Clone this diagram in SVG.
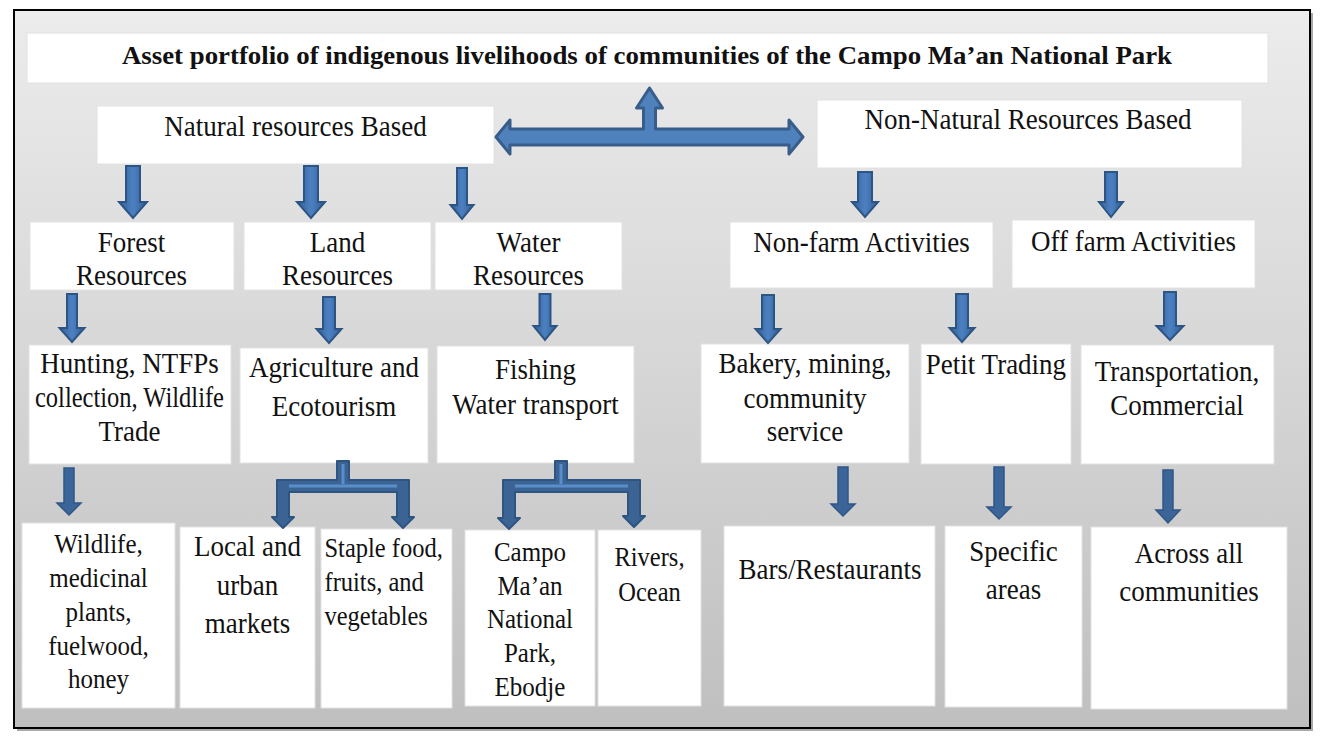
<svg xmlns="http://www.w3.org/2000/svg" width="1325" height="747" viewBox="0 0 1325 747">
<defs>
<linearGradient id="bg" x1="0" y1="0" x2="0" y2="1">
<stop offset="0" stop-color="#ececec"/>
<stop offset="0.5" stop-color="#d6d6d6"/>
<stop offset="1" stop-color="#bfbfbf"/>
</linearGradient>
<linearGradient id="arr" x1="0" y1="0" x2="1" y2="0">
<stop offset="0" stop-color="#335d91"/>
<stop offset="0.45" stop-color="#4a7ebf"/>
<stop offset="0.55" stop-color="#4a7ebf"/>
<stop offset="1" stop-color="#335d91"/>
</linearGradient>
</defs>
<style>
.box{fill:#ffffff;stroke:#e2e2e2;stroke-width:1}
.t{font-family:"Liberation Serif","Times New Roman",serif;font-size:27px;fill:#111111;text-anchor:middle;transform-box:fill-box;transform-origin:50% 50%;transform:scaleY(1.12)}
.s25{font-size:25px}
.s24{font-size:24.5px}
.title{font-family:"Liberation Serif","Times New Roman",serif;font-size:23px;font-weight:bold;fill:#111111;text-anchor:middle;transform-box:fill-box;transform-origin:50% 50%;transform:scaleY(1.08)}
.big{fill:#4f81bd;stroke:#385d8a;stroke-width:3;stroke-linejoin:round}
.da{fill:url(#arr);stroke:#2d5584;stroke-width:2;stroke-linejoin:miter}
.dc{fill:#3b6598;stroke:#2f5686;stroke-width:1.5}
.br{fill:#3b6495;stroke:#2e5482;stroke-width:2;stroke-linejoin:round}
.hl{stroke:#5a8dcc;stroke-width:3;fill:none}
</style>

<rect x="17" y="13" width="1296" height="718" fill="#a8a8a8"/>
<rect x="14" y="10" width="1296" height="718" fill="url(#bg)" stroke="#000000" stroke-width="2"/>

<g id="title"><rect class="box" x="27" y="33" width="1241" height="50"/><text class="title" x="647" y="63" textLength="1050" lengthAdjust="spacingAndGlyphs">Asset portfolio of indigenous livelihoods of communities of the Campo Ma’an National Park</text></g>

<g id="natural"><rect class="box" x="97" y="106" width="397" height="58"/><text class="t" x="295.5" y="135">Natural resources Based</text></g>
<g id="nonnatural"><rect class="box" x="817" y="100" width="425" height="68"/><text class="t" x="1028" y="128">Non-Natural Resources Based</text></g>

<g id="forest"><rect class="box" x="30" y="222" width="204" height="68"/><text class="t" x="131.5" y="251">Forest</text><text class="t" x="131.5" y="284">Resources</text></g>
<g id="land"><rect class="box" x="244" y="222" width="187" height="68"/><text class="t" x="337.5" y="251">Land</text><text class="t" x="337.5" y="284">Resources</text></g>
<g id="water"><rect class="box" x="435" y="222" width="187" height="68"/><text class="t" x="528.5" y="251">Water</text><text class="t" x="528.5" y="284">Resources</text></g>
<g id="nonfarm"><rect class="box" x="730" y="222" width="263" height="66"/><text class="t" x="861.5" y="251">Non-farm Activities</text></g>
<g id="offfarm"><rect class="box" x="1012" y="220" width="243" height="68"/><text class="t" x="1133.5" y="249.5">Off farm Activities</text></g>

<g id="hunting"><rect class="box" x="29" y="345" width="202" height="119"/><text class="t" x="129.5" y="372" font-size="23">Hunting, NTFPs</text><text class="t" x="129.5" y="406" font-size="23" textLength="189" lengthAdjust="spacingAndGlyphs">collection, Wildlife</text><text class="t" x="129.5" y="440" font-size="23">Trade</text></g>
<g id="agriculture"><rect class="box" x="240" y="348" width="188" height="115"/><text class="t" x="334" y="376">Agriculture and</text><text class="t" x="334" y="415">Ecotourism</text></g>
<g id="fishing"><rect class="box" x="437" y="346" width="197" height="117"/><text class="t" x="535.5" y="378">Fishing</text><text class="t" x="535.5" y="413">Water transport</text></g>
<g id="bakery"><rect class="box" x="701" y="344" width="208" height="119"/><text class="t" x="805" y="372">Bakery, mining,</text><text class="t" x="805" y="406.5">community</text><text class="t" x="805" y="440">service</text></g>
<g id="petit"><rect class="box" x="921" y="344" width="150" height="120"/><text class="t" x="996" y="373">Petit Trading</text></g>
<g id="transport"><rect class="box" x="1081" y="345" width="193" height="119"/><text class="t" x="1177" y="380">Transportation,</text><text class="t" x="1177" y="413.5">Commercial</text></g>

<g id="wildlife"><rect class="box" x="22" y="523" width="153" height="185"/><text class="t s25" x="98.5" y="552">Wildlife,</text><text class="t s25" x="98.5" y="586">medicinal</text><text class="t s25" x="98.5" y="620">plants,</text><text class="t s25" x="98.5" y="654">fuelwood,</text><text class="t s25" x="98.5" y="687">honey</text></g>
<g id="local"><rect class="box" x="180" y="527" width="135" height="181"/><text class="t" x="247.5" y="555" font-size="26">Local and</text><text class="t" x="247.5" y="594" font-size="26">urban</text><text class="t" x="247.5" y="632" font-size="26">markets</text></g>
<g id="staple"><rect class="box" x="321" y="529" width="131" height="179"/><text class="t s24" x="324.5" y="556" style="text-anchor:start">Staple food,</text><text class="t s24" x="324.5" y="590" style="text-anchor:start">fruits, and</text><text class="t s24" x="324.5" y="624" style="text-anchor:start">vegetables</text></g>
<g id="campo"><rect class="box" x="465" y="530" width="130" height="176"/><text class="t s25" x="530" y="560">Campo</text><text class="t s25" x="530" y="594">Ma’an</text><text class="t s25" x="530" y="627">National</text><text class="t s25" x="530" y="661">Park,</text><text class="t s25" x="530" y="695">Ebodje</text></g>
<g id="rivers"><rect class="box" x="598" y="530" width="103" height="176"/><text class="t s24" x="649.5" y="565">Rivers,</text><text class="t s24" x="649.5" y="600">Ocean</text></g>
<g id="bars"><rect class="box" x="724" y="526" width="211" height="180"/><text class="t" x="830" y="578">Bars/Restaurants</text></g>
<g id="specific"><rect class="box" x="945" y="526" width="137" height="181"/><text class="t" x="1013.5" y="560" font-size="26">Specific</text><text class="t" x="1013.5" y="598" font-size="26">areas</text></g>
<g id="across"><rect class="box" x="1091" y="527" width="196" height="182"/><text class="t" x="1189" y="562">Across all</text><text class="t" x="1189" y="600">communities</text></g>

<g id="connectors">
<path class="big" d="M496,137 L510,120 L510,129 L643.5,129 L643.5,108 L636.5,108 L649.5,88 L662.5,108 L655.5,108 L655.5,129 L789,129 L789,120 L803,137 L789,154 L789,145 L510,145 L510,154 Z"/>

<path class="da" d="M126,166 H140 V202 H147 L133,218 L119,202 H126 Z"/>
<path class="da" d="M304,166 H318 V202 H325 L311,218 L297,202 H304 Z"/>
<path class="da" d="M457,168 H467 V205 H473.5 L462,219 L450.5,205 H457 Z"/>
<path class="da" d="M858,172 H872 V202 H878 L865,217 L852,202 H858 Z"/>
<path class="da" d="M1105,172 H1117 V202 H1123 L1111,217 L1099,202 H1105 Z"/>

<path class="da" d="M67,294 H77 V328 H84.5 L72,342 L59.5,328 H67 Z"/>
<path class="da" d="M323,297 H335 V329 H341.5 L329,343 L316.5,329 H323 Z"/>
<path class="da" d="M539.5,294 H550.5 V326 H556.5 L545,340 L533.5,326 H539.5 Z"/>
<path class="da" d="M762,295 H774 V329 H780.5 L768,343 L755.5,329 H762 Z"/>
<path class="da" d="M956,294 H968 V328 H974.5 L962,342 L949.5,328 H956 Z"/>
<path class="da" d="M1164,292 H1176 V326 H1183.5 L1170,340 L1156.5,326 H1164 Z"/>

<path class="dc" d="M64,468 H74 V503 H81 L69,515 L57,503 H64 Z"/>
<path class="dc" d="M838,467 H848 V504 H855 L843,516 L831,504 H838 Z"/>
<path class="dc" d="M994,467 H1004 V507 H1011 L999,519 L987,507 H994 Z"/>
<path class="dc" d="M1163,470 H1173 V510 H1180 L1168,523 L1156,510 H1163 Z"/>

<path class="br" d="M337,461 H349 V480 H409 V517 H414 L403,528 L392,517 H397 V492 H289 V517 H294 L283,528 L272,517 H277 V480 H337 Z"/>
<path class="hl" d="M343,464 V484 M289,486 H397"/>
<path class="br" d="M555,461 H567 V480 H640 V516 H645 L634,527 L623,516 H628 V492 H515 V518 H520 L509,529 L498,518 H503 V480 H555 Z"/>
<path class="hl" d="M561,464 V484 M515,486 H628"/>
</g>
</svg>
